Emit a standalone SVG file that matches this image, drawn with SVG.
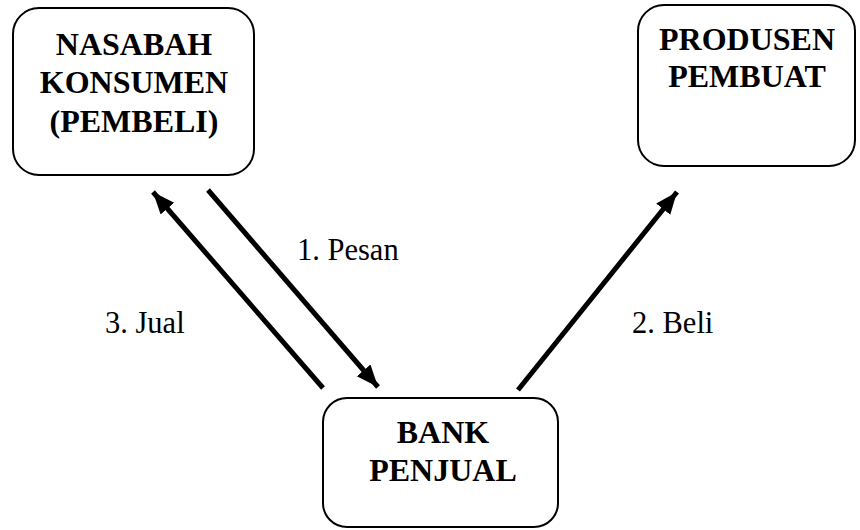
<svg xmlns="http://www.w3.org/2000/svg" width="860" height="530" viewBox="0 0 860 530">
  <style>
    .box { fill: #fff; stroke: #000; stroke-width: 2; }
    .title { font-family: "Liberation Serif", "Times New Roman", serif; font-weight: bold; font-size: 32px; text-anchor: middle; fill: #000; }
    .lbl { font-family: "Liberation Serif", "Times New Roman", serif; font-size: 30.5px; fill: #000; }
    .conn { stroke: #000; stroke-width: 5; fill: none; marker-end: url(#head); }
  </style>
  <defs>
    <marker id="head" markerUnits="userSpaceOnUse" markerWidth="24" markerHeight="20" refX="22" refY="9" orient="auto">
      <path d="M0,0 L22,9 L0,18 Z" fill="#000"/>
    </marker>
  </defs>
  <rect width="860" height="530" fill="#fff"/>

  <g id="nasabah">
    <rect class="box" x="13" y="8" width="241" height="167" rx="26"/>
    <text class="title" x="134" y="55">NASABAH</text>
    <text class="title" x="134" y="93">KONSUMEN</text>
    <text class="title" x="134" y="132">(PEMBELI)</text>
  </g>

  <g id="produsen">
    <rect class="box" x="638" y="5" width="217" height="161" rx="26"/>
    <text class="title" x="747" y="50">PRODUSEN</text>
    <text class="title" x="747" y="87">PEMBUAT</text>
  </g>

  <g id="bank">
    <rect class="box" x="323" y="398" width="235" height="129" rx="24"/>
    <text class="title" x="443" y="443">BANK</text>
    <text class="title" x="443" y="481">PENJUAL</text>
  </g>

  <g id="connectors">
    <line class="conn" x1="208" y1="190" x2="378" y2="387"/>
    <line class="conn" x1="323" y1="388" x2="153" y2="192"/>
    <line class="conn" x1="518" y1="390" x2="677" y2="192"/>
    <text class="lbl" x="297" y="260">1. Pesan</text>
    <text class="lbl" x="105" y="333">3. Jual</text>
    <text class="lbl" x="632" y="333">2. Beli</text>
  </g>
</svg>
